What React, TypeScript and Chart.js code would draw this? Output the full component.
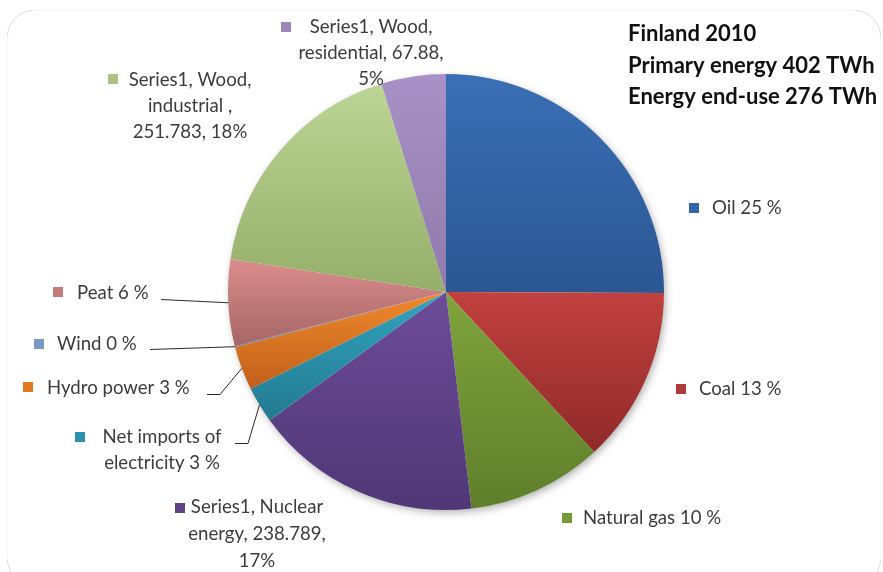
import React, { useEffect, useRef } from "react";
import { Chart, registerables } from "chart.js";

Chart.register(...registerables);

// ---------- data ----------
const categories = [
  "Oil",
  "Coal",
  "Natural gas",
  "Nuclear energy",
  "Net imports of electricity",
  "Hydro power",
  "Wind",
  "Peat",
  "Wood, industrial ",
  "Wood, residential",
];
const values = [355, 184.6, 142, 238.789, 38, 46, 1, 91, 251.783, 67.88];
const labelLines = [
  ["Oil 25 %"],
  ["Coal 13 %"],
  ["Natural gas 10 %"],
  ["Series1, Nuclear", "energy, 238.789,", "17%"],
  ["Net imports of", "electricity 3 %"],
  ["Hydro power 3 %"],
  ["Wind 0 %"],
  ["Peat 6 %"],
  ["Series1, Wood,", "industrial ,", "251.783, 18%"],
  ["Series1, Wood,", "residential, 67.88,", "5%"],
];
const titleLines = ["Finland 2010", "Primary energy 402 TWh", "Energy end-use 276 TWh"];

// ---------- styles ----------
const topColors = ["#3a6fb6", "#c1413f", "#7fa43b", "#6d4b99", "#31a3bf", "#f08a2c", "#7b97c9", "#db8d8d", "#bdd595", "#a891c6"];
const bottomColors = ["#2b5692", "#8f2a29", "#5f7e2b", "#4f3775", "#237a8f", "#bf5f19", "#5e7aab", "#a66666", "#95ae69", "#8f7bab"];
const keyColors = ["#3465a8", "#b03a38", "#759a35", "#604285", "#2b93ad", "#e0781f", "#7b97c9", "#c67b7b", "#aac47f", "#9c86ba"];

const FAMILY = "Lato, 'Liberation Sans', sans-serif";

type LabelLayout = { kx: number; ky: number; tx: number; ty: number; align: CanvasTextAlign; gap: number };
const labelLayout: LabelLayout[] = [
  { kx: 689, ky: 203, tx: 712, ty: 208, align: "left", gap: 26.5 },
  { kx: 676, ky: 384, tx: 699, ty: 389, align: "left", gap: 26.5 },
  { kx: 562, ky: 513, tx: 583, ty: 518, align: "left", gap: 26.5 },
  { kx: 175, ky: 503, tx: 257, ty: 507, align: "center", gap: 27 },
  { kx: 75, ky: 432, tx: 162, ty: 437, align: "center", gap: 26 },
  { kx: 23, ky: 382, tx: 47, ty: 388, align: "left", gap: 26 },
  { kx: 34, ky: 339, tx: 57, ty: 344, align: "left", gap: 26 },
  { kx: 53, ky: 287, tx: 77, ty: 293, align: "left", gap: 26 },
  { kx: 108, ky: 74, tx: 190, ty: 80, align: "center", gap: 26 },
  { kx: 281, ky: 22, tx: 371, ty: 27, align: "center", gap: 26 },
];
const leaders: { index: number; pts: number[][] }[] = [
  { index: 7, pts: [[161, 299]] },
  { index: 6, pts: [[150, 349]] },
  { index: 5, pts: [[207, 394], [220, 394]] },
  { index: 4, pts: [[235, 443], [248, 443]] },
];

function fitSize(ctx: CanvasRenderingContext2D, texts: string[], target: number, weight: string) {
  ctx.font = `${weight} 100px ${FAMILY}`;
  let w = 0;
  texts.forEach((t) => (w += ctx.measureText(t).width));
  return (100 * target) / w;
}

const decorPlugin = {
  id: "decor",
  beforeDatasetsDraw(chart: any) {
    const ctx: CanvasRenderingContext2D = chart.ctx;
    const meta = chart.getDatasetMeta(0);
    const a0 = meta.data[0];
    if (a0) {
      ctx.save();
      ctx.shadowColor = "rgba(0,0,0,0.35)";
      ctx.shadowBlur = 8;
      ctx.shadowOffsetX = 2;
      ctx.shadowOffsetY = 3;
      ctx.beginPath();
      ctx.arc(a0.x, a0.y, a0.outerRadius - 1, 0, Math.PI * 2);
      ctx.fillStyle = "#ffffff";
      ctx.fill();
      ctx.restore();
    }
    meta.data.forEach((arc: any, i: number) => {
      const { x, y, startAngle, endAngle, outerRadius } = arc.getProps(
        ["x", "y", "startAngle", "endAngle", "outerRadius"],
        true
      );
      const ys = [y, y + outerRadius * Math.sin(startAngle), y + outerRadius * Math.sin(endAngle)];
      for (let k = -2; k <= 2; k++) {
        const d = Math.PI / 2 + 2 * Math.PI * k;
        if (d >= startAngle && d <= endAngle) ys.push(y + outerRadius);
        const u = -Math.PI / 2 + 2 * Math.PI * k;
        if (u >= startAngle && u <= endAngle) ys.push(y - outerRadius);
      }
      const y0 = Math.min(...ys);
      let y1 = Math.max(...ys);
      if (y1 - y0 < 1) y1 = y0 + 1;
      const g = ctx.createLinearGradient(0, y0, 0, y1);
      g.addColorStop(0, topColors[i]);
      g.addColorStop(1, bottomColors[i]);
      try {
        arc.options.backgroundColor = g;
        arc.options.borderColor = g;
      } catch (e) {}
    });
  },
  afterDraw(chart: any) {
    const ctx: CanvasRenderingContext2D = chart.ctx;
    const meta = chart.getDatasetMeta(0);
    ctx.save();

    // faint rounded frame: only the corners show
    const fx = 7.5, fy = 10.5, fw = 873, fh = 575, r = 26;
    ctx.lineWidth = 1;
    ctx.strokeStyle = "#f7f7f7";
    ctx.beginPath();
    ctx.moveTo(fx + r, fy);
    ctx.lineTo(fx + fw - r, fy);
    ctx.moveTo(fx + fw, fy + r);
    ctx.lineTo(fx + fw, fy + fh - r);
    ctx.moveTo(fx, fy + r);
    ctx.lineTo(fx, fy + fh - r);
    ctx.stroke();
    ctx.strokeStyle = "#dcdcdc";
    ctx.beginPath();
    ctx.arc(fx + r, fy + r, r, Math.PI, Math.PI * 1.5);
    ctx.stroke();
    ctx.beginPath();
    ctx.arc(fx + fw - r, fy + r, r, Math.PI * 1.5, Math.PI * 2);
    ctx.stroke();
    ctx.beginPath();
    ctx.arc(fx + fw - r, fy + fh - r, r, 0, Math.PI * 0.5);
    ctx.stroke();
    ctx.beginPath();
    ctx.arc(fx + r, fy + fh - r, r, Math.PI * 0.5, Math.PI);
    ctx.stroke();

    // leader lines
    ctx.strokeStyle = "#2a2a2a";
    ctx.lineWidth = 1;
    leaders.forEach((l) => {
      const arc = meta.data[l.index];
      if (!arc) return;
      const { x, y, startAngle, endAngle, outerRadius } = arc.getProps(
        ["x", "y", "startAngle", "endAngle", "outerRadius"],
        true
      );
      const mid = (startAngle + endAngle) / 2;
      const ex = x + outerRadius * Math.cos(mid);
      const ey = y + outerRadius * Math.sin(mid);
      ctx.beginPath();
      ctx.moveTo(l.pts[0][0], l.pts[0][1] + 0.5);
      for (let k = 1; k < l.pts.length; k++) ctx.lineTo(l.pts[k][0], l.pts[k][1] + 0.5);
      ctx.lineTo(ex, ey);
      ctx.stroke();
    });

    // labels
    const labelSize = fitSize(
      ctx,
      ["Series1, Wood,", "residential, 67.88,", "Natural gas 10 %", "Hydro power 3 %"],
      114 + 141 + 144 + 150,
      "normal"
    );
    ctx.font = `normal ${labelSize}px ${FAMILY}`;
    ctx.textBaseline = "middle";
    labelLines.forEach((lines, i) => {
      const L = labelLayout[i];
      ctx.fillStyle = keyColors[i];
      ctx.fillRect(L.kx, L.ky, 10, 10);
      ctx.fillStyle = "#3c3c3c";
      ctx.textAlign = L.align;
      lines.forEach((t, j) => ctx.fillText(t, L.tx, L.ty + j * L.gap));
    });

    // title
    const titleSize = fitSize(ctx, ["Primary energy 402 TWh", "Energy end-use 276 TWh"], 496, "bold");
    ctx.font = `bold ${titleSize}px ${FAMILY}`;
    ctx.fillStyle = "#111111";
    ctx.textAlign = "left";
    titleLines.forEach((t, j) => ctx.fillText(t, 628, 34 + j * 31.5));
    ctx.restore();
  },
};

export default function App() {
  const ref = useRef<HTMLCanvasElement | null>(null);
  useEffect(() => {
    if (!ref.current) return;
    const chart = new Chart(ref.current, {
      type: "pie",
      data: {
        labels: categories,
        datasets: [
          {
            data: values,
            backgroundColor: keyColors,
            borderColor: keyColors,
            borderWidth: 0,
          },
        ],
      },
      options: {
        animation: false,
        responsive: false,
        events: [],
        layout: { padding: { left: 228, right: 219, top: 74, bottom: 62 } },
        plugins: {
          legend: { display: false },
          tooltip: { enabled: false },
          title: { display: false },
        },
      },
      plugins: [decorPlugin],
    });
    return () => chart.destroy();
  }, []);
  return (
    <div style={{ position: "absolute", left: 0, top: 0, width: 883, height: 572, background: "#ffffff" }}>
      <canvas ref={ref} width={883} height={572} style={{ display: "block", width: 883, height: 572 }} />
    </div>
  );
}
